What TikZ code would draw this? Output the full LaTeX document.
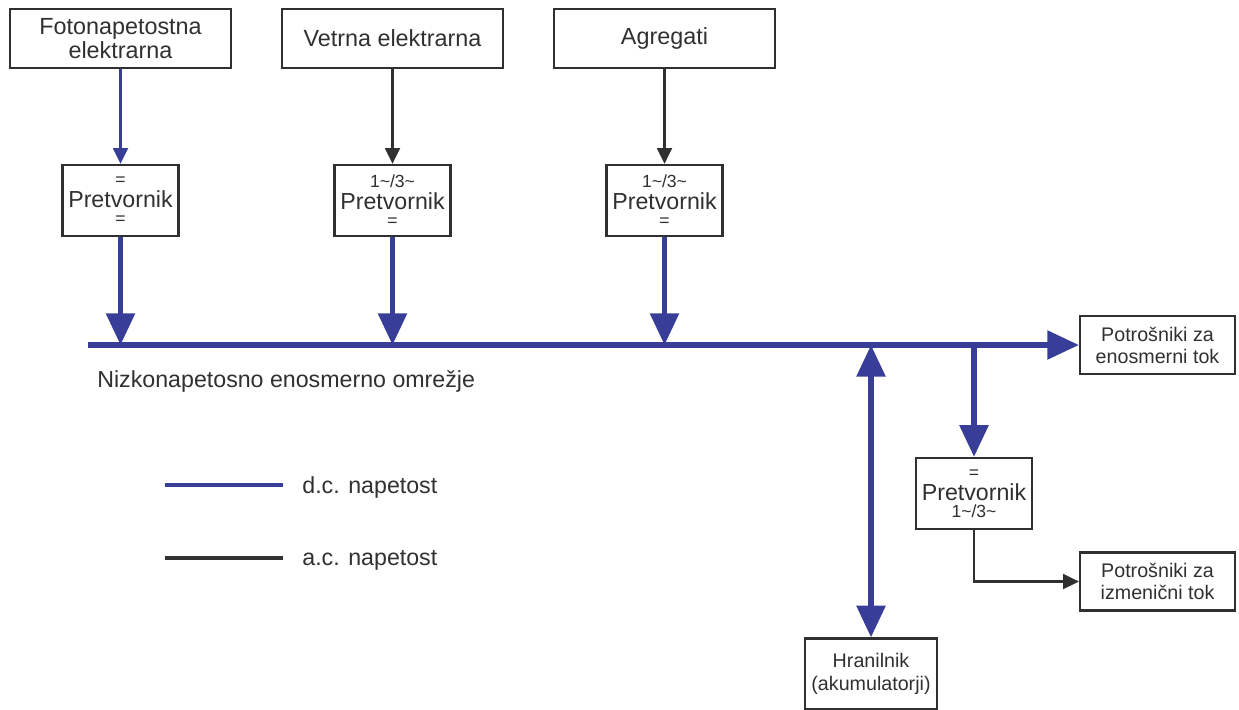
\documentclass[tikz,border=0pt]{standalone}
\usepackage{fontspec}
\setmainfont{Liberation Sans}
\usetikzlibrary{arrows.meta}
\definecolor{dcblue}{RGB}{56,62,152}
\definecolor{acgray}{RGB}{48,48,48}
\newcommand{\znak}[1]{{\fontsize{10pt}{11pt}\selectfont #1}}
\tikzset{
  bighead/.tip={Triangle[length=18pt,width=16pt]},
  smallhead/.tip={Triangle[length=9pt,width=8.5pt]},
  blok/.style={draw=acgray, line width=1.3pt, text=acgray, align=center, inner sep=0pt},
  izvor/.style={blok, minimum width=4.42cm, minimum height=1.18cm, font=\fontsize{13.3pt}{14pt}\selectfont},
  pretv/.style={blok, minimum width=2.32cm, minimum height=1.42cm, font=\fontsize{13.2pt}{11pt}\selectfont},
  porab/.style={blok, minimum width=3.1cm, minimum height=1.16cm, font=\fontsize{11.2pt}{12.5pt}\selectfont},
  hran/.style={blok, minimum width=2.64cm, minimum height=1.42cm, font=\fontsize{11.2pt}{13pt}\selectfont},
  napis/.style={text=acgray, inner sep=0pt, anchor=west, font=\fontsize{13.2pt}{15pt}\selectfont},
  dctanka/.style={draw=dcblue, line width=1.4pt, -smallhead},
  actanka/.style={draw=acgray, line width=1.4pt, -smallhead},
  dcdebela/.style={draw=dcblue, line width=3pt, -bighead}
}
\begin{document}
\begin{tikzpicture}[x=0.02cm, y=-0.02cm]
  \useasboundingbox (0,0) rectangle (1239,709);

  % viri
  \node[izvor] (foto) at (120.5,38.5) {Fotonapetostna\\elektrarna};
  \node[izvor] (veter) at (392.5,38.5) {Vetrna elektrarna};
  \node[izvor] (agreg) at (664.5,38.5) {Agregati};

  % pretvorniki
  \node[pretv] (pt1) at (120.5,200.5) {\znak{=}\\[1.5pt]Pretvornik\\[-1.5pt]\znak{=}};
  \node[pretv] (pt2) at (392.5,200.5) {\znak{1\textasciitilde/3\textasciitilde}\\[1.5pt]Pretvornik\\[-1.5pt]\znak{=}};
  \node[pretv] (pt3) at (664.5,200.5) {\znak{1\textasciitilde/3\textasciitilde}\\[1.5pt]Pretvornik\\[-1.5pt]\znak{=}};
  \node[pretv] (pt4) at (974,493.5) {\znak{=}\\[1.5pt]Pretvornik\\[-1.5pt]\znak{1\textasciitilde/3\textasciitilde}};

  % porabniki
  \node[porab] (potdc) at (1157.5,345) {Potrošniki za\\enosmerni tok};
  \node[porab] (potac) at (1157.5,581.5) {Potrošniki za\\izmenični tok};
  \node[hran] (akum) at (871,674) {Hranilnik\\(akumulatorji)};

  % vodilo
  \coordinate (busL) at (88,345);
  \draw[dcdebela] (busL) -- (potdc.west);
  \node[napis] (busnapis) at (97,381) {Nizkonapetosno enosmerno omrežje};

  \draw[dctanka] (foto) -- (pt1);
  \draw[actanka] (veter) -- (pt2);
  \draw[actanka] (agreg) -- (pt3);

  \draw[dcdebela] (pt1.south) -- (pt1.south |- busL);
  \draw[dcdebela] (pt2.south) -- (pt2.south |- busL);
  \draw[dcdebela] (pt3.south) -- (pt3.south |- busL);
  \draw[dcdebela, bighead-bighead] (akum.north) -- (akum.north |- busL);
  \draw[dcdebela] (pt4.north |- busL) -- (pt4.north);
  \draw[actanka] (pt4.south) |- (potac.west);

  % legenda
  \coordinate (dc1) at (165,485);
  \coordinate (dc2) at (283,485);
  \coordinate (ac1) at (165,558);
  \coordinate (ac2) at (283,558);
  \draw[dcblue, line width=2pt] (dc1) -- (dc2);
  \draw[acgray, line width=2pt] (ac1) -- (ac2);
  \node[napis] (dcnap) at (302,487) {d.c. napetost};
  \node[napis] (acnap) at (302,560) {a.c. napetost};
\end{tikzpicture}
\end{document}
